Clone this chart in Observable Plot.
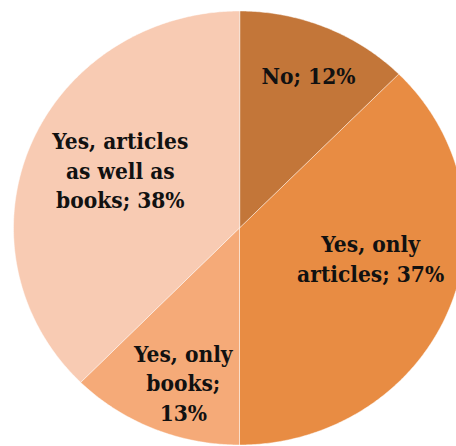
<!DOCTYPE html>
<html>
<head>
<meta charset="utf-8">
<script src="https://cdn.jsdelivr.net/npm/d3@7"></script>
<script src="https://cdn.jsdelivr.net/npm/@observablehq/plot@0.6"></script>
<style>
  html, body { margin: 0; padding: 0; background: #fff; overflow: hidden; }
</style>
</head>
<body>
<div id="chart"></div>
<script>
// ---- data ----
const categories = ["No", "Yes, only articles", "Yes, only books", "Yes, articles as well as books"];
const values = [12.45, 37.55, 12.4, 37.6];
const labels = ["No; 12%", "Yes, only\narticles; 37%", "Yes, only\nbooks;\n13%", "Yes, articles\nas well as\nbooks; 38%"];
const colors = ["#c37639", "#e88c43", "#f5aa78", "#f8cbb3"];

// ---- layout (label anchor in unit-pie coordinates: radius fraction, angle in degrees clockwise from 12 o'clock) ----
const labelRadius = [0.772, 0.596, 0.752, 0.593];
const labelAngle = [23.3, 103.2, 199.3, 297.2];

// build slice polygons from values
const total = d3.sum(values);
const slices = [];
let start = 0;
values.forEach((v, i) => {
  const a0 = start / total * 2 * Math.PI;
  const a1 = (start + v) / total * 2 * Math.PI;
  start += v;
  slices.push({cat: categories[i], x: 0, y: 0, k: 0});
  const n = Math.max(2, Math.ceil((a1 - a0) / (Math.PI / 360)));
  for (let j = 0; j <= n; j++) {
    const a = a0 + (a1 - a0) * j / n;
    slices.push({cat: categories[i], x: Math.sin(a), y: Math.cos(a), k: j + 1});
  }
});

const labelData = categories.map((c, i) => {
  const a = labelAngle[i] * Math.PI / 180;
  return {cat: c, text: labels[i], x: labelRadius[i] * Math.sin(a), y: labelRadius[i] * Math.cos(a)};
});

const chart = Plot.plot({
  width: 456,
  height: 446,
  margin: 0,
  style: {background: "#fff", overflow: "hidden"},
  x: {domain: [-1, 1], range: [13, 465], axis: null},
  y: {domain: [-1, 1], range: [444.5, 10.5], axis: null},
  color: {domain: categories, range: colors},
  marks: [
    Plot.line(slices, {
      x: "x", y: "y", z: "cat", fill: "cat",
      curve: "linear-closed",
      stroke: "#ffffff", strokeWidth: 0.8, strokeOpacity: 0.6
    }),
    Plot.text(labelData, {
      x: "x", y: "y", text: "text",
      fontSize: 22.5, fontWeight: "bold", fontFamily: "'DejaVu Serif Condensed', 'DejaVu Serif', serif",
      lineHeight: 1.31, textAnchor: "middle", lineAnchor: "middle",
      fill: "#111"
    })
  ]
});
document.getElementById("chart").appendChild(chart);
</script>
</body>
</html>
